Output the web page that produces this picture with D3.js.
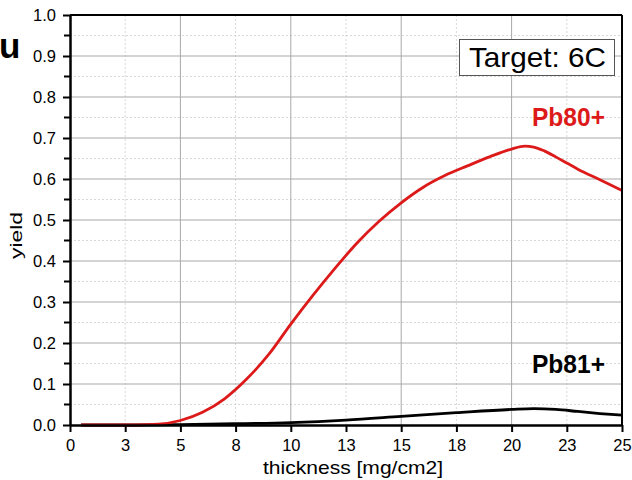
<!DOCTYPE html>
<html><head><meta charset="utf-8">
<script src="https://cdn.jsdelivr.net/npm/d3@7"></script>
<style>body{margin:0;background:#fff}svg{display:block;font-family:Arial,"Liberation Sans",sans-serif}</style>
</head><body><svg id="c" width="632" height="480"></svg>
<script>
const thickness80 = [0.5, 2, 3, 4, 5, 6, 7, 8, 9, 10, 11, 12, 13, 14, 15, 16, 17, 18, 19, 20, 20.6, 21, 21.5, 22, 22.5, 23, 24, 25];
const pb80 = [0, 0, 0, 0.002, 0.011, 0.031, 0.064, 0.112, 0.172, 0.246, 0.316, 0.382, 0.444, 0.497, 0.542, 0.58, 0.609, 0.632, 0.654, 0.673, 0.680, 0.678, 0.668, 0.654, 0.639, 0.624, 0.598, 0.572];
const thickness81 = [0.5, 3, 5, 7.5, 10, 12.5, 15, 17.5, 20, 21, 22, 23, 24, 25];
const pb81 = [0, 0, 0.001, 0.003, 0.006, 0.012, 0.021, 0.030, 0.038, 0.040, 0.038, 0.033, 0.028, 0.024];
const xTicks = [0, 2.5, 5, 7.5, 10, 12.5, 15, 17.5, 20, 22.5, 25];
const xTickLabels = ["0", "3", "5", "8", "10", "13", "15", "18", "20", "23", "25"];
const yTicks = [0, 0.1, 0.2, 0.3, 0.4, 0.5, 0.6, 0.7, 0.8, 0.9, 1.0];
const yMinor = [0.05, 0.15, 0.25, 0.35, 0.45, 0.55, 0.65, 0.75, 0.85, 0.95];
const xMajorGrid = [5, 10, 15, 20];
const xMinorGrid = [2.5, 7.5, 12.5, 17.5, 22.5];

const svg = d3.select("#c");
const L = 70, R = 622, T = 15, B = 425;
const x = d3.scaleLinear().domain([0, 25]).range([L, R]);
const y = d3.scaleLinear().domain([0, 1]).range([B, T]);

// grid
const g = svg.append("g");
g.selectAll(".ymg").data(yMinor).join("line").attr("x1", L).attr("x2", R)
  .attr("y1", d => y(d)).attr("y2", d => y(d)).attr("stroke", "#d8d8d8").attr("stroke-width", 1).attr("stroke-dasharray", "2,2");
g.selectAll(".xmg").data(xMinorGrid).join("line").attr("y1", T).attr("y2", B)
  .attr("x1", d => x(d)).attr("x2", d => x(d)).attr("stroke", "#d8d8d8").attr("stroke-width", 1).attr("stroke-dasharray", "2,2");
g.selectAll(".yMg").data(yTicks.slice(1, -1)).join("line").attr("x1", L).attr("x2", R)
  .attr("y1", d => y(d)).attr("y2", d => y(d)).attr("stroke", "#a8a8a8").attr("stroke-width", 1);
g.selectAll(".xMg").data(xMajorGrid).join("line").attr("y1", T).attr("y2", B)
  .attr("x1", d => x(d)).attr("x2", d => x(d)).attr("stroke", "#a8a8a8").attr("stroke-width", 1);

// curves
const line80 = d3.line().x((d, i) => x(thickness80[i])).y(d => y(d)).curve(d3.curveMonotoneX);
const line81 = d3.line().x((d, i) => x(thickness81[i])).y(d => y(d)).curve(d3.curveMonotoneX);
svg.append("path").datum(pb81).attr("d", line81).attr("fill", "none").attr("stroke", "#000").attr("stroke-width", 2.8);
svg.append("path").datum(pb80).attr("d", line80).attr("fill", "none").attr("stroke", "#dd1a1a").attr("stroke-width", 2.8);

// frame
svg.append("line").attr("x1", L).attr("x2", R).attr("y1", T).attr("y2", T).attr("stroke", "#000").attr("stroke-width", 2);
svg.append("line").attr("x1", R).attr("x2", R).attr("y1", T).attr("y2", B).attr("stroke", "#000").attr("stroke-width", 2);

// axes
const xAxis = d3.axisBottom(x).tickValues(xTicks).tickFormat((d, i) => xTickLabels[i]).tickSize(7).tickSizeOuter(0);
const xa = svg.append("g").attr("transform", `translate(0,${B})`).call(xAxis);
xa.select(".domain").attr("stroke-width", 2.5);
xa.selectAll(".tick line").attr("stroke-width", 2);
xa.selectAll("text").attr("font-size", 16.5).attr("fill", "#000").attr("y", 14).attr("dy", "0.71em").attr("font-family", "Arial, 'Liberation Sans', sans-serif");

const yAxis = d3.axisLeft(y).tickValues(yTicks).tickFormat(d3.format(".1f")).tickSize(7).tickSizeOuter(0);
const ya = svg.append("g").attr("transform", `translate(${L},0)`).call(yAxis);
ya.select(".domain").attr("stroke-width", 2.5);
ya.selectAll(".tick line").attr("stroke-width", 2);
ya.selectAll("text").attr("font-size", 16.5).attr("fill", "#000").attr("x", -14).attr("font-family", "Arial, 'Liberation Sans', sans-serif");
ya.selectAll(".mt").data(yMinor).join("line").attr("x1", -6).attr("x2", 0)
  .attr("y1", d => y(d)).attr("y2", d => y(d)).attr("stroke", "#000").attr("stroke-width", 2);

// labels
svg.append("text").attr("x", 263).attr("y", 474).attr("font-size", 19)
  .attr("textLength", 180).attr("lengthAdjust", "spacingAndGlyphs").text("thickness [mg/cm2]");
svg.append("text").attr("transform", `translate(22,259) rotate(-90)`).attr("font-size", 17)
  .attr("textLength", 47).attr("lengthAdjust", "spacingAndGlyphs").text("yield");
svg.append("text").attr("x", -1).attr("y", 58).attr("font-size", 35).attr("font-weight", "bold").text("u");

// annotation box
svg.append("rect").attr("x", 459.5).attr("y", 39.5).attr("width", 155).attr("height", 36).attr("fill", "#fff").attr("stroke", "#555").attr("stroke-width", 1);
svg.append("text").attr("x", 469).attr("y", 67).attr("font-size", 28)
  .attr("textLength", 137).attr("lengthAdjust", "spacingAndGlyphs").text("Target: 6C");
svg.append("text").attr("x", 532).attr("y", 126).attr("font-size", 25).attr("font-weight", "bold").attr("fill", "#dd1a1a")
  .attr("textLength", 73).attr("lengthAdjust", "spacingAndGlyphs").text("Pb80+");
svg.append("text").attr("x", 532).attr("y", 373).attr("font-size", 25).attr("font-weight", "bold").attr("fill", "#000")
  .attr("textLength", 73).attr("lengthAdjust", "spacingAndGlyphs").text("Pb81+");
</script></body></html>
